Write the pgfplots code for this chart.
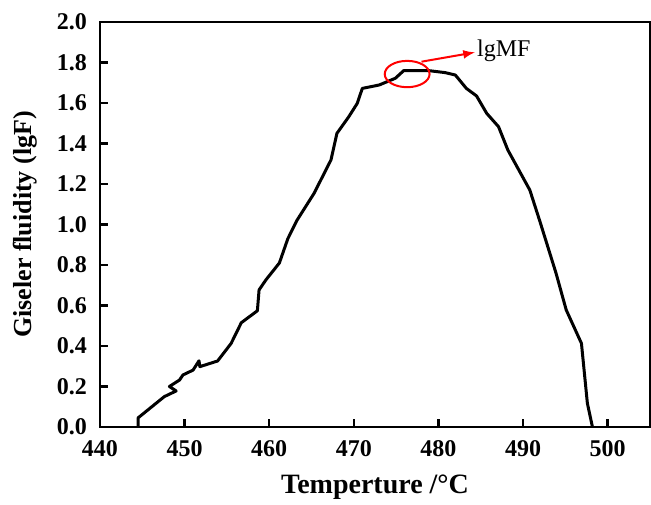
\documentclass[border=0pt]{standalone}
\usepackage{fontspec}
\setmainfont{Liberation Serif}
\usepackage{pgfplots}
\pgfplotsset{compat=1.18}

\begin{document}
\begin{tikzpicture}
\begin{axis}[
  scale only axis, width=275bp, height=202.5bp,
  xmin=440, xmax=505, ymin=0, ymax=2.0,
  xtick={440,450,...,500}, ytick={0,0.2,...,2.0},
  tick pos=left, tick align=inside,
  major tick length=4bp,
  axis line style={line width=1.4bp},
  every tick/.style={line width=1.2bp, black},
  /pgf/number format/assume math mode=true,
  /pgf/number format/.cd, fixed, fixed zerofill, precision=1, /pgfplots/.cd,
  xticklabel={\pgfmathprintnumber[fixed,precision=0]{\tick}},
  ticklabel style={font=\fontsize{12bp}{14bp}\selectfont\bfseries},
  xticklabel style={yshift=-3bp},
  yticklabel style={xshift=-3bp},
  xlabel={Temperture /°C},
  ylabel={Giseler fluidity (lgF)},
  xlabel style={font=\fontsize{14bp}{16bp}\selectfont\bfseries,
    at={(axis description cs:0.5,-0.148)}, anchor=center},
  ylabel style={font=\fontsize{13bp}{15bp}\selectfont\bfseries,
    at={(axis description cs:-0.136,0.5)}, anchor=center},
  clip=false,
]
\addplot[black, line width=1.5bp, line join=round] coordinates {
(444.5,0.0) (444.5,0.045) (447.6,0.15) (449.0,0.178) (448.2,0.20)
(449.4,0.232) (449.8,0.257) (451.0,0.281) (451.7,0.327) (451.8,0.298)
(453.9,0.326) (455.5,0.413) (456.7,0.515) (458.6,0.574) (458.8,0.677)
(459.6,0.726) (461.2,0.81) (462.2,0.93) (463.3,1.022) (465.3,1.154)
(467.3,1.319) (468.0,1.45) (469.4,1.532) (470.4,1.598) (471.0,1.672)
(473.0,1.689) (474.9,1.722) (475.9,1.76) (478.8,1.76) (480.8,1.75)
(482.0,1.738) (483.3,1.672) (484.5,1.635) (485.7,1.549) (487.1,1.483)
(488.2,1.368) (490.8,1.170) (492.0,1.014) (493.9,0.759) (495.1,0.578)
(496.9,0.413) (497.6,0.117) (498.2,0.0)
};
\draw[red, line width=1bp] (axis cs:476.3,1.743) ellipse [x radius=2.65, y radius=0.065];
\draw[red, line width=1bp, -latex] (axis cs:478.0,1.804) -- (axis cs:484.3,1.85);
\node[anchor=west, inner sep=1bp, font=\fontsize{12bp}{14bp}\selectfont] at (axis cs:484.3,1.86) {lgMF};
\coordinate (sw) at (rel axis cs:0,0);
\end{axis}
\pgfresetboundingbox
\useasboundingbox (sw) ++(-50bp,-39bp) rectangle ++(325.5bp,252.5bp);
\end{tikzpicture}
\end{document}
